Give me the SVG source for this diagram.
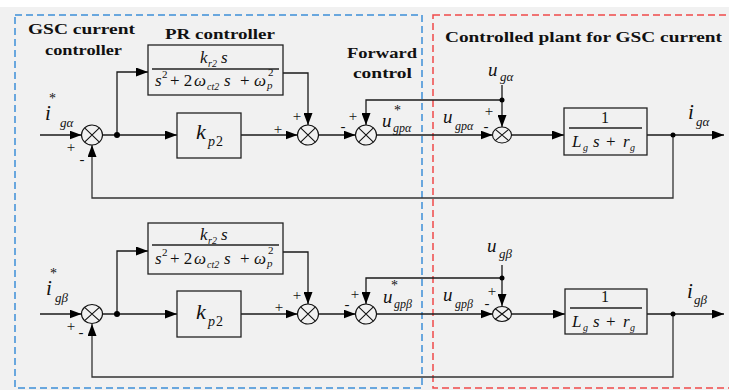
<svg xmlns="http://www.w3.org/2000/svg" width="729" height="390" viewBox="0 0 729 390" font-family="Liberation Serif, DejaVu Serif, serif">
<defs>
<marker id="arr" markerUnits="userSpaceOnUse" markerWidth="13" markerHeight="9" refX="12" refY="4.5" orient="auto">
<path d="M0,0 L12,4.5 L0,9 z" fill="#000"/>
</marker>
</defs>
<style>
.ln{fill:none;stroke:#1a1a1a;stroke-width:1.3}
.fb{fill:none;stroke:#333;stroke-width:1.3}
.ar{marker-end:url(#arr)}
.box{fill:none;stroke:#222;stroke-width:1.3}
.sum{fill:none;stroke:#111;stroke-width:1.1}
.dot{fill:#000}
.t{font-weight:bold;font-size:15px;fill:#111}
.mi{font-style:italic;fill:#111}
.mr{fill:#111}
.sg{font-size:15px;fill:#111;text-anchor:middle}
.bl{fill:none;stroke:#3d8fd8;stroke-width:1.5;stroke-dasharray:7 4}
.rd{fill:none;stroke:#f04a4a;stroke-width:1.5;stroke-dasharray:7 4}
</style>
<rect x="0" y="0" width="729" height="390" fill="#ffffff"/>
<rect x="0" y="7" width="729" height="383" fill="#f1f1f1"/>

<g id="regions">
<rect class="bl" x="15" y="15" width="407" height="373"/>
<rect class="rd" x="433" y="15" width="300" height="373"/>
<text class="t" x="28" y="34" textLength="107" lengthAdjust="spacingAndGlyphs">GSC current</text>
<text class="t" x="45" y="55" textLength="77" lengthAdjust="spacingAndGlyphs">controller</text>
<text class="t" x="165" y="39" textLength="110" lengthAdjust="spacingAndGlyphs">PR controller</text>
<text class="t" x="347" y="58" textLength="70" lengthAdjust="spacingAndGlyphs">Forward</text>
<text class="t" x="353" y="78" textLength="59" lengthAdjust="spacingAndGlyphs">control</text>
<text class="t" x="445" y="42" textLength="277" lengthAdjust="spacingAndGlyphs">Controlled plant for GSC current</text>
</g>

<g id="connectors">
<path class="ln ar" d="M40,135 H81.5"/>
<path class="ln ar" d="M102.5,135 H177"/>
<path class="ln ar" d="M117,135 V72 H148"/>
<path class="ln ar" d="M283,73 H308 V125"/>
<path class="ln ar" d="M241,135 H297.5"/>
<path class="ln ar" d="M318.5,135 H355.5"/>
<path class="ln ar" d="M376.5,135 H492.5"/>
<path class="ln ar" d="M502,85 V127"/>
<path class="ln ar" d="M502,100 H366 V125"/>
<path class="ln ar" d="M511.5,135 H564"/>
<path class="ln ar" d="M647,135 H724"/>
<path class="fb ar" d="M673,135 V198 H92 V145"/>
<path class="ln ar" d="M40,314 H81.5"/>
<path class="ln ar" d="M102.5,314 H177"/>
<path class="ln ar" d="M117,314 V251 H148"/>
<path class="ln ar" d="M283,252 H308 V304"/>
<path class="ln ar" d="M241,314 H297.5"/>
<path class="ln ar" d="M318.5,314 H355.5"/>
<path class="ln ar" d="M376.5,314 H492.5"/>
<path class="ln ar" d="M502,265 V306"/>
<path class="ln ar" d="M502,278 H366 V304"/>
<path class="ln ar" d="M511.5,314 H565"/>
<path class="ln ar" d="M647,314 H724"/>
<path class="fb ar" d="M673,314 V377 H92 V324"/>
<circle class="dot" cx="117" cy="135" r="3"/>
<circle class="dot" cx="502" cy="100" r="2.5"/>
<circle class="dot" cx="673" cy="135" r="2.5"/>
<circle class="dot" cx="117" cy="314" r="3"/>
<circle class="dot" cx="502" cy="278" r="2.5"/>
<circle class="dot" cx="673" cy="314" r="2.5"/>
</g>

<g id="in1">
<text class="mi" x="45" y="120" font-size="21">i</text>
<text class="mr" x="49" y="103" font-size="14">*</text>
<text class="mi" x="60" y="127" font-size="13">gα</text>
</g>
<g id="sum1a">
<ellipse class="sum" cx="92" cy="135" rx="10.5" ry="10"/>
<path class="sum" d="M84.6,127.9 L99.4,142.1 M99.4,127.9 L84.6,142.1"/>
<text class="sg" x="71" y="152">+</text>
<text class="sg" x="82" y="164">-</text>
</g>
<g id="pr1">
<rect class="box" x="148" y="45" width="135" height="50"/>
<line class="box" x1="152" y1="69" x2="279" y2="69"/>
<text class="mi" x="200" y="63" font-size="17">k</text>
<text class="mi" x="208" y="67" font-size="10">r2</text>
<text class="mi" x="221" y="63" font-size="17">s</text>
<text class="mi" x="155" y="86" font-size="17">s</text>
<text class="mr" x="162" y="78" font-size="11">2</text>
<text class="mr" x="170" y="86" font-size="17">+ 2</text>
<text class="mi" x="194" y="86" font-size="17">ω</text>
<text class="mi" x="207" y="90" font-size="10">ct2</text>
<text class="mi" x="224" y="86" font-size="17">s</text>
<text class="mr" x="240" y="86" font-size="17">+</text>
<text class="mi" x="254" y="86" font-size="17">ω</text>
<text class="mr" x="268" y="76" font-size="11">2</text>
<text class="mi" x="267" y="89" font-size="11">p</text>
</g>
<g id="kp1">
<rect class="box" x="177" y="113" width="64" height="45"/>
<text class="mi" x="196" y="139" font-size="22">k</text>
<text class="mi" x="208" y="146" font-size="14">p</text>
<text class="mr" x="216" y="146" font-size="14">2</text>
</g>
<g id="sum2a">
<ellipse class="sum" cx="308" cy="135" rx="10.5" ry="10"/>
<path class="sum" d="M300.6,127.9 L315.4,142.1 M315.4,127.9 L300.6,142.1"/>
<text class="sg" x="278" y="134">+</text>
<text class="sg" x="297" y="121">+</text>
</g>
<g id="sum3a">
<ellipse class="sum" cx="366" cy="135" rx="10.5" ry="10"/>
<path class="sum" d="M358.6,127.9 L373.4,142.1 M373.4,127.9 L358.6,142.1"/>
<text class="sg" x="343" y="131">-</text>
<text class="sg" x="353" y="121">+</text>
<text class="mi" x="382" y="127" font-size="19">u</text>
<text class="mr" x="394" y="115" font-size="14">*</text>
<text class="mi" x="393" y="132" font-size="12">gpα</text>
</g>
<g id="ug1">
<text class="mi" x="488" y="76" font-size="19">u</text>
<text class="mi" x="500" y="81" font-size="13">gα</text>
</g>
<g id="ugp1">
<text class="mi" x="443" y="123" font-size="19">u</text>
<text class="mi" x="455" y="130" font-size="12">gpα</text>
</g>
<g id="sum4a">
<ellipse class="sum" cx="502" cy="135" rx="9.5" ry="8"/>
<path class="sum" d="M495.3,129.3 L508.7,140.7 M508.7,129.3 L495.3,140.7"/>
<text class="sg" x="489" y="116">+</text>
<text class="sg" x="486" y="131">-</text>
</g>
<g id="plant1">
<rect class="box" x="564" y="108" width="83" height="47"/>
<line class="box" x1="569" y1="128" x2="642" y2="128"/>
<text class="mr" x="605" y="123" font-size="16" text-anchor="middle">1</text>
<text class="mi" x="572" y="147" font-size="17">L</text>
<text class="mi" x="583" y="151" font-size="10">g</text>
<text class="mi" x="593" y="147" font-size="17">s</text>
<text class="mr" x="606" y="147" font-size="17">+</text>
<text class="mi" x="623" y="147" font-size="17">r</text>
<text class="mi" x="630" y="151" font-size="10">g</text>
</g>
<g id="out1">
<text class="mi" x="688" y="119" font-size="21">i</text>
<text class="mi" x="696" y="126" font-size="13">gα</text>
</g>

<g id="in2">
<text class="mi" x="46" y="295" font-size="21">i</text>
<text class="mr" x="50" y="278" font-size="14">*</text>
<text class="mi" x="55" y="302" font-size="13">gβ</text>
</g>
<g id="sum1b">
<ellipse class="sum" cx="92" cy="314" rx="10.5" ry="9.5"/>
<path class="sum" d="M84.6,307.3 L99.4,320.7 M99.4,307.3 L84.6,320.7"/>
<text class="sg" x="71" y="331">+</text>
<text class="sg" x="81" y="337">-</text>
</g>
<g id="pr2">
<rect class="box" x="148" y="223" width="135" height="51"/>
<line class="box" x1="152" y1="245" x2="279" y2="245"/>
<text class="mi" x="200" y="240" font-size="17">k</text>
<text class="mi" x="208" y="244" font-size="10">r2</text>
<text class="mi" x="221" y="240" font-size="17">s</text>
<text class="mi" x="155" y="264" font-size="17">s</text>
<text class="mr" x="162" y="256" font-size="11">2</text>
<text class="mr" x="170" y="264" font-size="17">+ 2</text>
<text class="mi" x="194" y="264" font-size="17">ω</text>
<text class="mi" x="207" y="268" font-size="10">ct2</text>
<text class="mi" x="224" y="264" font-size="17">s</text>
<text class="mr" x="240" y="264" font-size="17">+</text>
<text class="mi" x="254" y="264" font-size="17">ω</text>
<text class="mr" x="268" y="254" font-size="11">2</text>
<text class="mi" x="267" y="267" font-size="11">p</text>
</g>
<g id="kp2">
<rect class="box" x="177" y="291" width="64" height="46"/>
<text class="mi" x="196" y="319" font-size="22">k</text>
<text class="mi" x="208" y="326" font-size="14">p</text>
<text class="mr" x="216" y="326" font-size="14">2</text>
</g>
<g id="sum2b">
<ellipse class="sum" cx="308" cy="314" rx="10.5" ry="10"/>
<path class="sum" d="M300.6,306.9 L315.4,321.1 M315.4,306.9 L300.6,321.1"/>
<text class="sg" x="279" y="312">+</text>
<text class="sg" x="297" y="300">+</text>
</g>
<g id="sum3b">
<ellipse class="sum" cx="366" cy="314" rx="10.5" ry="10"/>
<path class="sum" d="M358.6,306.9 L373.4,321.1 M373.4,306.9 L358.6,321.1"/>
<text class="sg" x="347" y="309">-</text>
<text class="sg" x="355" y="299">+</text>
<text class="mi" x="383" y="303" font-size="19">u</text>
<text class="mr" x="391" y="290" font-size="14">*</text>
<text class="mi" x="394" y="308" font-size="12">gpβ</text>
</g>
<g id="ug2">
<text class="mi" x="487" y="252" font-size="19">u</text>
<text class="mi" x="499" y="258" font-size="13">gβ</text>
</g>
<g id="ugp2">
<text class="mi" x="443" y="301" font-size="19">u</text>
<text class="mi" x="455" y="308" font-size="12">gpβ</text>
</g>
<g id="sum4b">
<ellipse class="sum" cx="502" cy="314" rx="9.5" ry="7.5"/>
<path class="sum" d="M495.3,308.7 L508.7,319.3 M508.7,308.7 L495.3,319.3"/>
<text class="sg" x="492" y="296">+</text>
<text class="sg" x="487" y="308">-</text>
</g>
<g id="plant2">
<rect class="box" x="565" y="289" width="82" height="45"/>
<line class="box" x1="570" y1="308" x2="642" y2="308"/>
<text class="mr" x="605" y="302" font-size="16" text-anchor="middle">1</text>
<text class="mi" x="572" y="327" font-size="17">L</text>
<text class="mi" x="583" y="331" font-size="10">g</text>
<text class="mi" x="593" y="327" font-size="17">s</text>
<text class="mr" x="606" y="327" font-size="17">+</text>
<text class="mi" x="623" y="327" font-size="17">r</text>
<text class="mi" x="630" y="331" font-size="10">g</text>
</g>
<g id="out2">
<text class="mi" x="687" y="298" font-size="21">i</text>
<text class="mi" x="694" y="304" font-size="13">gβ</text>
</g>
</svg>
